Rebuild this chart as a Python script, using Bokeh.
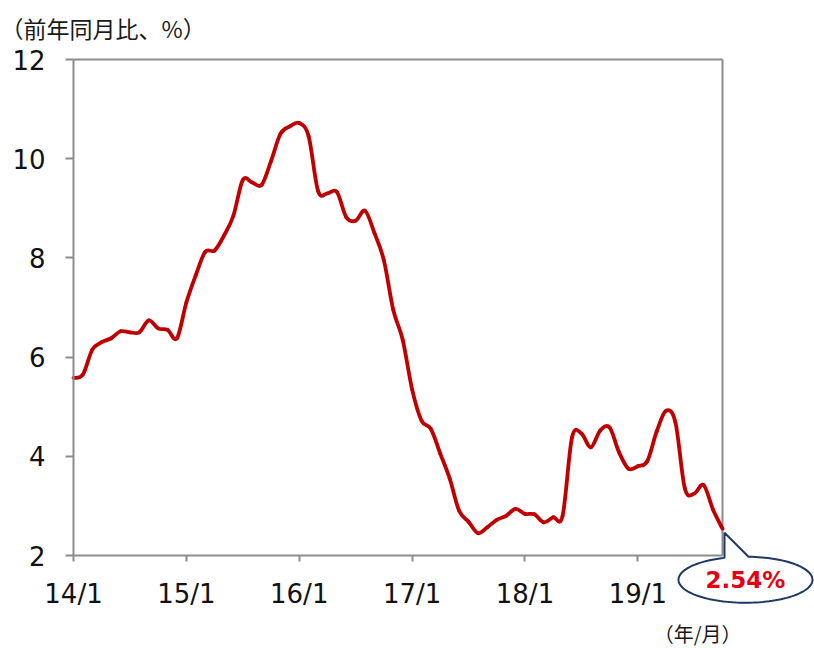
import numpy as np
from bokeh.plotting import figure
from bokeh.models import Range1d, FixedTicker
from bokeh.core.properties import value
from bokeh.embed import file_html
from bokeh.resources import INLINE

# Year-on-year change (%), monthly from 2014/1 to 2019/10
values = [5.58, 5.65, 6.15, 6.30, 6.38, 6.52, 6.50, 6.50, 6.74, 6.58, 6.55, 6.38,
          7.10, 7.65, 8.12, 8.15, 8.45, 8.85, 9.57, 9.52, 9.47, 9.95, 10.50, 10.65,
          10.72, 10.45, 9.35, 9.30, 9.33, 8.82, 8.75, 8.95, 8.50, 7.95, 6.95, 6.35,
          5.35, 4.72, 4.55, 4.05, 3.55, 2.90, 2.68, 2.45, 2.57, 2.72, 2.80, 2.94,
          2.84, 2.83, 2.67, 2.77, 2.80, 4.38, 4.46, 4.18, 4.52, 4.58, 4.08, 3.75,
          3.80, 3.90, 4.50, 4.92, 4.68, 3.35, 3.25, 3.42, 2.92, 2.54]
tick_months = [0, 12, 24, 36, 48, 60]
tick_labels = ["14/1", "15/1", "16/1", "17/1", "18/1", "19/1"]
y_ticks = [2, 4, 6, 8, 10, 12]
title_text = "（前年同月比、%）"
xlabel_text = "（年/月）"

# layout (pixels)
W, H = 814, 648
L, T = 73, 59           # left / top of the data box
PW, PH = 649, 496       # size of the data box
x0, x1 = 0, len(values) - 1
y0, y1 = 2, 12
fx = PW / (x1 - x0)     # px per month
fy = PH / (y1 - y0)     # px per percentage point
# the frame covers the whole canvas so that labels and the callout are not clipped
x_start = x0 - L / fx
x_end = x1 + (W - L - PW) / fx
y_start = y0 - (H - T - PH) / fy
y_end = y1 + T / fy

GREY = "#8c8c8c"
NUM_FONT = "DejaVu Sans"
JP_FONT = "Noto Sans CJK JP"

p = figure(width=W, height=H, output_backend="svg", toolbar_location=None,
           x_range=Range1d(x_start, x_end), y_range=Range1d(y_start, y_end),
           min_border=0, min_border_left=0, min_border_right=0,
           min_border_top=0, min_border_bottom=0)
p.background_fill_color = "white"
p.border_fill_color = "white"
p.outline_line_color = None
p.xgrid.visible = False
p.ygrid.visible = False

for ax in (p.xaxis[0], p.yaxis[0]):
    ax.axis_line_color = GREY
    ax.axis_line_width = 2
    ax.major_tick_line_color = GREY
    ax.major_tick_line_width = 2
    ax.minor_tick_line_color = None
    ax.major_tick_in = 0
    ax.major_label_text_font = NUM_FONT
    ax.major_label_text_font_size = "26px"
    ax.major_label_text_color = "#111111"

p.yaxis.ticker = FixedTicker(ticks=y_ticks)
p.yaxis.bounds = (y0, y1)
p.yaxis.fixed_location = x0
p.yaxis.major_tick_out = 8
p.yaxis.major_label_standoff = 20

p.xaxis.ticker = FixedTicker(ticks=tick_months)
p.xaxis.major_label_overrides = {m: lab for m, lab in zip(tick_months, tick_labels)}
p.xaxis.bounds = (x0, x1)
p.xaxis.fixed_location = y0
p.xaxis.major_tick_out = 6
p.xaxis.major_label_standoff = 17

# top and right borders of the data box
p.segment(x0=[x0, x1], y0=[y1, y0], x1=[x1, x1], y1=[y1, y1],
          line_color=GREY, line_width=2)

# smoothed line (Catmull-Rom style Bezier segments through the monthly values)
xs = np.arange(len(values), dtype=float)
P = np.column_stack([xs, np.array(values, dtype=float)])
Pe = np.vstack([P[0], P, P[-1]])
n = len(P)
i = np.arange(n - 1)
c0 = P[i] + (Pe[i + 2] - Pe[i]) / 6.0
c1 = P[i + 1] - (Pe[i + 3] - Pe[i + 1]) / 6.0
p.bezier(x0=P[:-1, 0], y0=P[:-1, 1], x1=P[1:, 0], y1=P[1:, 1],
         cx0=c0[:, 0], cy0=c0[:, 1], cx1=c1[:, 0], cy1=c1[:, 1],
         line_color="#C00000", line_width=3.8, line_cap="round")

# callout for the last value (pixel offsets from the last point, screen y down)
xl, yl = P[-1]
cx, cy, a, b = 23.0, 51.0, 67.0, 23.0
tip = (2.0, 4.0)
thL = np.arccos(-21.0 / a)
thR = np.arccos(3.0 / a) + 2 * np.pi
th = np.linspace(thL, thR, 120)
ex = cx + a * np.cos(th)
ey = cy - b * np.sin(th)
px = np.concatenate([[tip[0]], ex, [tip[0]]])
py = np.concatenate([[tip[1]], ey, [tip[1]]])
p.patch(x=xl + px / fx, y=yl - py / fy, fill_color="white", fill_alpha=1.0,
        line_color="#1F3864", line_width=2)
p.text(x=[xl + cx / fx], y=[yl - cy / fy], text=[f"{values[-1]:.2f}%"],
       text_align="center", text_baseline="middle",
       text_font=value(NUM_FONT), text_font_size="23px", text_font_style="bold",
       text_color="#E50012")

# title (unit) at the top left
p.text(x=[x_start], y=[y1 + (T - 27) / fy], text=[title_text],
       text_align="left", text_baseline="middle",
       text_font=value(JP_FONT), text_font_size="23px", text_color="#1a1a1a")

# x-axis unit label
p.text(x=[x1 + 19 / fx], y=[y0 - 63 / fy], text=[xlabel_text],
       text_align="right", text_baseline="top",
       text_font=value(JP_FONT), text_font_size="20px", text_color="#1a1a1a")

open("out.html", "w").write(file_html(p, INLINE))
